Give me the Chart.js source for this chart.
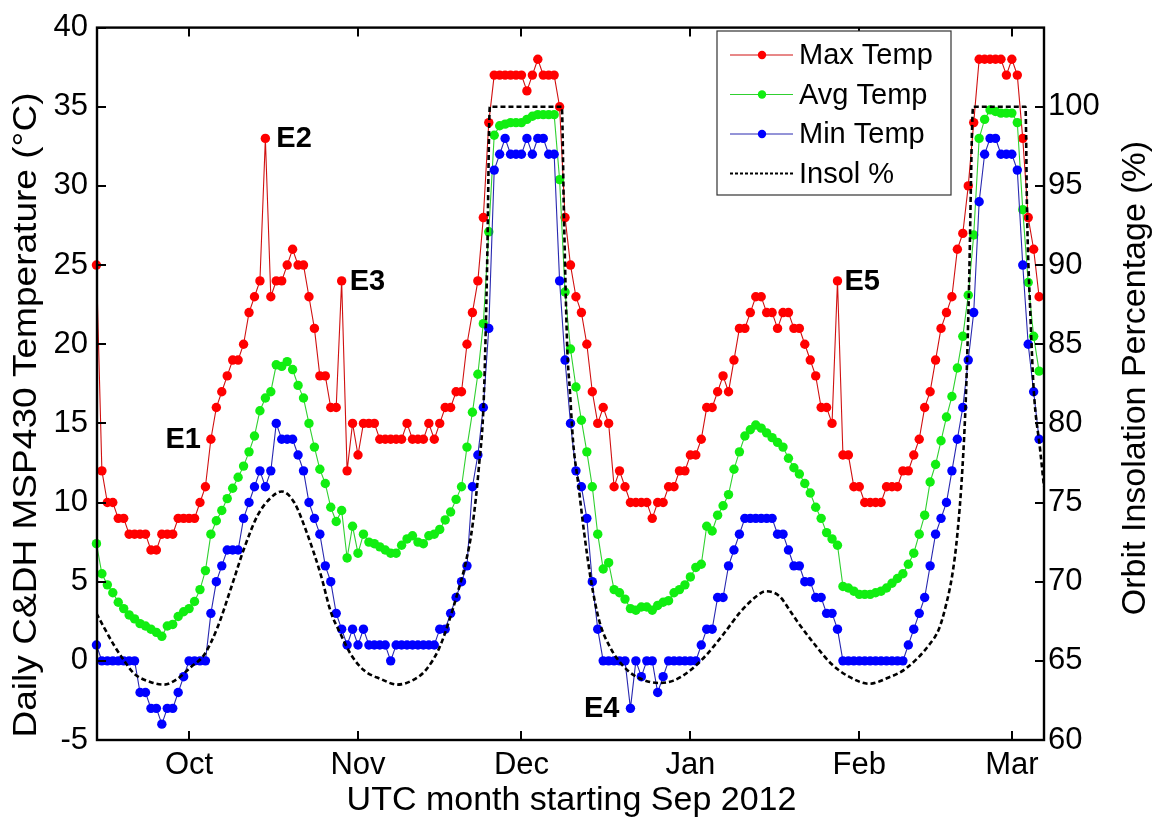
<!DOCTYPE html>
<html>
<head>
<meta charset="utf-8">
<title>Daily C&amp;DH MSP430 Temperature</title>
<script src="https://cdn.jsdelivr.net/npm/chart.js@4.4.1/dist/chart.umd.min.js"></script>
<style>
  html, body { margin: 0; padding: 0; background: #fff; }
  #wrap { position: relative; width: 1156px; height: 822px; }
</style>
</head>
<body>
<div id="wrap"><canvas id="chart" width="1156" height="822"></canvas></div>
<script>
// days are counted from 1 Sep 2012 (day 13 = 14 Sep), one sample per day
const firstDay = 13;

// month ticks on the x axis
const monthDays = [30, 61, 91, 122, 153, 181];
const monthLabels = ['Oct', 'Nov', 'Dec', 'Jan', 'Feb', 'Mar'];

// Max Temp (°C), one value per day from day 13 to day 186
const maxTemp = [
  25, 12, 10, 10, 9, 9, 8, 8, 8, 8,
  7, 7, 8, 8, 8, 9, 9, 9, 9, 10,
  11, 14, 16, 17, 18, 19, 19, 20, 22, 23,
  24, 33, 23, 24, 24, 25, 26, 25, 25, 23,
  21, 18, 18, 16, 16, 24, 12, 15, 13, 15,
  15, 15, 14, 14, 14, 14, 14, 15, 14, 14,
  14, 15, 14, 15, 16, 16, 17, 17, 20, 22,
  24, 28, 34, 37, 37, 37, 37, 37, 37, 36,
  37, 38, 37, 37, 37, 35, 28, 25, 23, 22,
  20, 17, 15, 16, 15, 11, 12, 11, 10, 10,
  10, 10, 9, 10, 10, 11, 11, 12, 12, 13,
  13, 14, 16, 16, 17, 18, 17, 19, 21, 21,
  22, 23, 23, 22, 22, 21, 22, 22, 21, 21,
  20, 19, 18, 16, 16, 15, 24, 13, 13, 11,
  11, 10, 10, 10, 10, 11, 11, 11, 12, 12,
  13, 14, 16, 17, 19, 21, 22, 23, 26, 27,
  30, 34, 38, 38, 38, 38, 38, 37, 38, 37,
  33, 28, 26, 23
];

// Avg Temp (°C)
const avgTemp = [
  7.4, 5.5, 4.8, 4.3, 3.7, 3.3, 2.9, 2.65, 2.35, 2.2,
  2.0, 1.8, 1.55, 2.2, 2.3, 2.8, 3.1, 3.3, 3.75, 4.5,
  5.7, 8.0, 8.85, 9.5, 10.25, 10.9, 11.6, 12.3, 13.2, 14.2,
  15.8, 16.6, 17.0, 18.7, 18.6, 18.9, 18.4, 17.4, 16.6, 15.0,
  13.5, 12.1, 11.2, 9.7, 8.8, 9.5, 6.5, 8.5, 6.8, 8.0,
  7.5, 7.4, 7.2, 7.0, 6.8, 6.8, 7.3, 7.7, 7.9, 7.5,
  7.4, 7.9, 8.0, 8.3, 8.9, 9.4, 10.2, 11.0, 13.5, 15.7,
  18.1, 21.3, 27.1, 33.2, 33.8, 33.9, 34.0, 34.0, 34.0, 34.2,
  34.4, 34.5, 34.5, 34.5, 34.5, 30.4, 23.3, 19.7, 17.3, 15.2,
  13.2, 11.0, 8.0, 5.8, 6.2, 4.5, 4.3, 3.9, 3.3, 3.2,
  3.4, 3.4, 3.2, 3.5, 3.7, 3.8, 4.3, 4.5, 4.8, 5.3,
  5.9, 6.1, 8.5, 8.2, 9.2, 9.8, 10.5, 12.1, 13.2, 14.2,
  14.6, 14.9, 14.7, 14.4, 14.1, 13.8, 13.5, 12.8, 12.2, 11.8,
  11.2, 10.6, 9.7, 9.0, 8.1, 7.7, 7.3, 4.7, 4.6, 4.4,
  4.2, 4.2, 4.2, 4.3, 4.4, 4.6, 4.9, 5.2, 5.5, 6.1,
  6.8, 8.0, 9.2, 11.3, 12.4, 13.9, 15.4, 16.7, 18.5, 20.5,
  23.1, 26.9, 33.0, 34.2, 34.8, 34.7, 34.6, 34.6, 34.6, 34.0,
  28.5, 23.9, 20.5, 18.3
];

// Min Temp (°C)
const minTemp = [
  1, 0, 0, 0, 0, 0, 0, 0, -2, -2,
  -3, -3, -4, -3, -3, -2, -1, 0, 0, 0,
  0, 3, 5, 6, 7, 7, 7, 9, 10, 11,
  12, 11, 12, 15, 14, 14, 14, 13, 12, 10,
  9, 8, 6, 5, 3, 2, 1, 2, 1, 2,
  1, 1, 1, 1, 0, 1, 1, 1, 1, 1,
  1, 1, 1, 2, 2, 3, 4, 5, 6, 11,
  13, 16, 21, 31, 32, 33, 32, 32, 32, 33,
  32, 33, 33, 32, 32, 24, 19, 15, 12, 11,
  9, 5, 2, 0, 0, 0, 0, 0, -3, 0,
  -1, 0, 0, -2, -1, 0, 0, 0, 0, 0,
  0, 1, 2, 2, 4, 4, 6, 7, 8, 9,
  9, 9, 9, 9, 9, 8, 8, 7, 6, 6,
  5, 5, 4, 4, 3, 3, 2, 0, 0, 0,
  0, 0, 0, 0, 0, 0, 0, 0, 0, 1,
  2, 3, 4, 6, 8, 9, 10, 12, 14, 16,
  19, 22, 29, 32, 33, 33, 32, 32, 32, 31,
  25, 20, 17, 14
];

// Orbit insolation (%)
const insolDays = [
  13, 14.4, 16.2, 18.1, 19.9, 23.0, 25.4, 27.8, 30.3, 32.8,
  35.2, 37.7, 40.1, 42.6, 45.0, 47.0, 49.3, 51.6, 54.2, 56.0,
  57.8, 59.7, 62.1, 65.2, 68.2, 70.9, 73.4, 75.9, 77.7, 79.2,
  80.8, 82.0, 83.2, 84.1, 84.7, 85.2, 98.4, 98.8, 99.4, 99.9,
  100.5, 101.4, 102.5, 103.8, 105.3, 107.2, 109.6, 112.1, 116.2, 118.9,
  122.0, 125.0, 128.1, 131.2, 134.2, 135.8, 138.3, 140.6, 141.8, 144.9,
  147.9, 151.1, 154.8, 158.4, 161.5, 165.8, 167.6, 168.9, 170.1,
  171.0, 171.9, 172.6, 173.1, 173.9, 183.5, 183.8, 184.4, 185.0, 186.2,
  186.9
];
const insolPct = [
  68.0, 67.1, 66.0, 65.0, 64.2, 63.65, 63.5, 63.85, 64.6, 65.4,
  67.1, 69.6, 72.1, 74.2, 75.3, 75.7, 75.0, 73.1, 70.4, 68.1,
  66.7, 65.4, 64.4, 63.85, 63.5, 63.75, 64.4, 65.8, 67.5, 69.2,
  71.25, 73.5, 77.3, 81.7, 90.0, 100, 100, 93.1, 84.8, 82.0,
  78.75, 76.25, 73.1, 70.0, 67.5, 65.9, 64.7, 64.0, 63.6, 63.75,
  64.4, 65.4, 66.7, 68.1, 69.1, 69.4, 69.1, 68.0, 67.4, 66.0,
  64.8, 64.0, 63.55, 63.95, 64.5, 66.0, 67.0, 68.5, 70.5,
  73.0, 77.0, 82.0, 88.0, 100, 100, 93.1, 86.9, 82.2, 78.3,
  76.0
];

// event markers
const eventLabels = ['E1', 'E2', 'E3', 'E4', 'E5'];
const eventDays = [34, 44, 58, 111, 149];
const eventSeries = ['max', 'max', 'max', 'min', 'max'];

const FONT = "'Liberation Sans', Arial, sans-serif";
const xTitle = 'UTC month starting Sep 2012';
const yTitle = 'Daily C&DH MSP430 Temperature (°C)';
const y2Title = 'Orbit Insolation Percentage (%)';

function toPoints(values) {
  return values.map((v, i) => ({ x: firstDay + i, y: v }));
}

const seriesByKey = { max: maxTemp, avg: avgTemp, min: minTemp };

// inward tick marks and the full box, MATLAB style
const framePlugin = {
  id: 'frame',
  afterDatasetsDraw(chart) {
    const { ctx, chartArea: a, scales } = chart;
    const len = 9;
    ctx.save();
    ctx.strokeStyle = '#000';
    ctx.lineWidth = 2;
    ctx.beginPath();
    scales.x.ticks.forEach(t => {
      const px = Math.round(scales.x.getPixelForValue(t.value));
      ctx.moveTo(px, a.bottom); ctx.lineTo(px, a.bottom - len);
      ctx.moveTo(px, a.top); ctx.lineTo(px, a.top + len);
    });
    scales.y.ticks.forEach(t => {
      const py = Math.round(scales.y.getPixelForValue(t.value));
      ctx.moveTo(a.left, py); ctx.lineTo(a.left + len, py);
    });
    scales.y2.ticks.forEach(t => {
      if (t.value > 100) return;
      const py = Math.round(scales.y2.getPixelForValue(t.value));
      ctx.moveTo(a.right, py); ctx.lineTo(a.right - len, py);
    });
    ctx.stroke();
    ctx.lineWidth = 2.4;
    ctx.strokeRect(a.left, a.top, a.width, a.height);
    ctx.restore();
  }
};

// axis titles (both y titles read bottom to top)
const titlePlugin = {
  id: 'titles',
  afterDraw(chart) {
    const { ctx, chartArea: a } = chart;
    ctx.save();
    ctx.fillStyle = '#000';
    ctx.font = '34px ' + FONT;
    ctx.textAlign = 'center';
    ctx.textBaseline = 'middle';
    ctx.fillText(xTitle, (a.left + a.right) / 2 + 1, 801);
    ctx.save();
    ctx.translate(27, 415);
    ctx.rotate(-Math.PI / 2);
    ctx.scale(1.09, 1);
    ctx.fillText(yTitle, 0, 0);
    ctx.restore();
    ctx.translate(1136, 378);
    ctx.rotate(-Math.PI / 2);
    ctx.fillText(y2Title, 0, 0);
    ctx.restore();
  }
};

// E1..E5 labels next to their points
const eventPlugin = {
  id: 'events',
  afterDatasetsDraw(chart) {
    const { ctx, scales } = chart;
    const offsets = { E1: [-10, 'right'], E2: [11, 'left'], E3: [8, 'left'], E4: [-11, 'right'], E5: [7, 'left'] };
    ctx.save();
    ctx.font = 'bold 29px ' + FONT;
    ctx.fillStyle = '#000';
    ctx.textBaseline = 'middle';
    eventLabels.forEach((lab, i) => {
      const d = eventDays[i];
      const v = seriesByKey[eventSeries[i]][d - firstDay];
      const [dx, align] = offsets[lab];
      ctx.textAlign = align;
      ctx.fillText(lab, scales.x.getPixelForValue(d) + dx, scales.y.getPixelForValue(v) + 1);
    });
    ctx.restore();
  }
};

// boxed legend, top right inside the plot
const legendPlugin = {
  id: 'boxLegend',
  afterDraw(chart) {
    const { ctx } = chart;
    const box = { x: 717, y: 31, w: 234, h: 164 };
    ctx.save();
    ctx.fillStyle = '#fff';
    ctx.fillRect(box.x, box.y, box.w, box.h);
    ctx.strokeStyle = '#333';
    ctx.lineWidth = 1.2;
    ctx.strokeRect(box.x, box.y, box.w, box.h);
    ctx.font = '29px ' + FONT;
    ctx.textBaseline = 'middle';
    ctx.textAlign = 'left';
    chart.data.datasets.forEach((ds, i) => {
      const cy = box.y + 24 + i * 39.5;
      ctx.strokeStyle = ds.borderColor;
      ctx.lineWidth = ds.borderDash ? 2 : 1;
      ctx.setLineDash(ds.borderDash ? [3, 2] : []);
      ctx.beginPath();
      ctx.moveTo(box.x + 13, cy);
      ctx.lineTo(box.x + 76, cy);
      ctx.stroke();
      ctx.setLineDash([]);
      if (ds.pointRadius > 0) {
        ctx.fillStyle = ds.pointBackgroundColor;
        ctx.beginPath();
        ctx.arc(box.x + 45, cy, 4.2, 0, Math.PI * 2);
        ctx.fill();
      }
      ctx.fillStyle = '#000';
      ctx.fillText(ds.label, box.x + 82, cy + 1);
    });
    ctx.restore();
  }
};

const tickFont = { family: FONT, size: 31 };

new Chart(document.getElementById('chart'), {
  type: 'line',
  data: {
    datasets: [
      {
        label: 'Max Temp', data: toPoints(maxTemp), yAxisID: 'y', clip: 6,
        borderColor: '#d01010', borderWidth: 1.1,
        pointRadius: 4.7, pointBorderWidth: 0, pointBackgroundColor: '#ff0000', order: 3
      },
      {
        label: 'Avg Temp', data: toPoints(avgTemp), yAxisID: 'y', clip: 6,
        borderColor: '#30d030', borderWidth: 1.1,
        pointRadius: 4.7, pointBorderWidth: 0, pointBackgroundColor: '#11ee11', order: 2
      },
      {
        label: 'Min Temp', data: toPoints(minTemp), yAxisID: 'y', clip: 6,
        borderColor: '#2828b0', borderWidth: 1.1,
        pointRadius: 4.7, pointBorderWidth: 0, pointBackgroundColor: '#0000ff', order: 1
      },
      {
        label: 'Insol %', data: insolDays.map((d, i) => ({ x: d, y: insolPct[i] })), yAxisID: 'y2',
        borderColor: '#000', borderWidth: 2.6, borderDash: [5, 3],
        pointRadius: 0, cubicInterpolationMode: 'monotone', order: 0
      }
    ]
  },
  options: {
    responsive: false,
    animation: false,
    devicePixelRatio: 1,
    layout: { padding: { top: 20, left: 0, right: 0, bottom: 0 } },
    plugins: { legend: { display: false }, tooltip: { enabled: false } },
    scales: {
      x: {
        type: 'linear', min: 13.1, max: 186.9,
        afterBuildTicks: s => { s.ticks = monthDays.map(v => ({ value: v })); },
        afterFit: s => { s.height = 82; },
        grid: { display: false, drawTicks: false },
        border: { display: false },
        ticks: {
          autoSkip: false, maxRotation: 0, padding: 7, color: '#000', font: tickFont,
          callback: v => monthLabels[monthDays.indexOf(v)]
        }
      },
      y: {
        position: 'left', min: -5, max: 40,
        afterFit: s => { s.width = 97; },
        grid: { display: false, drawTicks: false },
        border: { display: false },
        ticks: { stepSize: 5, padding: 9, color: '#000', font: tickFont }
      },
      y2: {
        position: 'right', min: 60, max: 105,
        afterFit: s => { s.width = 112; },
        grid: { display: false, drawTicks: false },
        border: { display: false },
        ticks: { stepSize: 5, padding: 4, color: '#000', font: tickFont, callback: v => (v > 100 ? '' : v) }
      }
    }
  },
  plugins: [framePlugin, eventPlugin, legendPlugin, titlePlugin]
});
</script>
</body>
</html>
